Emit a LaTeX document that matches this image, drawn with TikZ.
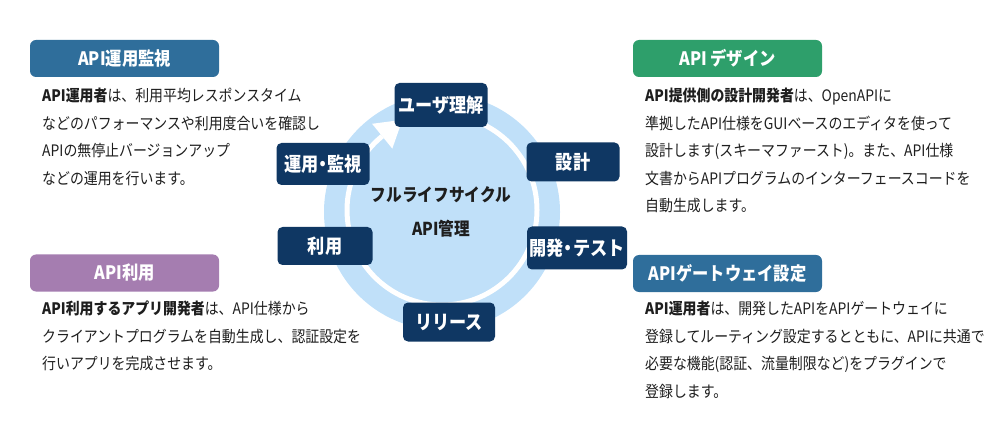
\documentclass[tikz,border=0pt]{standalone}
\usepackage{fontspec}
\setmainfont{Noto Sans CJK JP}[FakeStretch=0.88]

\definecolor{navy}{HTML}{0F3763}
\definecolor{ringblue}{HTML}{C0E0F9}
\definecolor{headblue}{HTML}{2F6E9B}
\definecolor{headgreen}{HTML}{2E9F6B}
\definecolor{headpurple}{HTML}{A57DB0}
\definecolor{bodytext}{HTML}{1E1E1E}

\tikzset{
  stage/.style={fill=navy, rounded corners=5pt, text=white, inner sep=0pt,
    font=\bfseries\fontsize{19.5}{19.5}\selectfont},
  headbox/.style={rounded corners=6pt, text=white, inner sep=0pt,
    minimum width=189pt, minimum height=37pt,
    font=\bfseries\fontsize{18.5}{18.5}\selectfont},
  desc/.style={anchor=north west, align=left, inner sep=0pt, text=bodytext,
    font=\fontsize{15.8}{27.5}\selectfont},
}

\begin{document}
\begin{tikzpicture}[x=1pt,y=-1pt]
  \useasboundingbox (0,0) rectangle (998,430);

  % cycle ring
  \fill[ringblue] (442,212) circle[radius=118];
  \draw[white, line width=5pt]
    (442,210) ++(-90:95) arc[start angle=-90, end angle=231, radius=95];
  % arrow head of the ring
  \fill[white] (372.1,123.8) -- (402.4,119.8) -- (392.3,148.6) -- cycle;

  \node[font=\bfseries\fontsize{17.8}{34}\selectfont, align=center, text=bodytext]
    (cycle) at (441,212) {フルライフサイクル\\API管理};

  % stages
  \node[stage, minimum width=93pt, minimum height=44pt] (user)    at (441,105) {ユーザ理解};
  \node[stage, minimum width=93pt, minimum height=39pt] (design)  at (573,162) {設計};
  \node[stage, minimum width=100pt, minimum height=43pt] (devtest) at (577,248) {開発{\kern-4pt}・{\kern-4pt}テスト};
  \node[stage, minimum width=92pt, minimum height=39pt] (release) at (449,322) {リリース};
  \node[stage, minimum width=95pt, minimum height=38pt] (usage)   at (325,246) {利用};
  \node[stage, minimum width=93pt, minimum height=42pt] (ops)     at (323,164) {運用{\kern-4pt}・{\kern-4pt}監視};

  % headings
  \node[headbox, fill=headblue]   (monhead)  at (124.5,58.5) {API運用監視};
  \node[headbox, fill=headgreen]  (deshead)  at (727.5,58.5) {API デザイン};
  \node[headbox, fill=headpurple] (usehead)  at (124.5,273)  {API利用};
  \node[headbox, fill=headblue]   (gatehead) at (727.5,273.5) {APIゲートウェイ設定};

  % descriptions
  \node[desc] (mondesc) at (42,88) {%
    {\bfseries API運用者}は、利用平均レスポンスタイム\\
    などのパフォーマンスや利用度合いを確認し\\
    APIの無停止バージョンアップ\\
    などの運用を行います。};
  \node[desc] (desdesc) at (645,88) {%
    {\bfseries API提供側の設計開発者}は、OpenAPIに\\
    準拠したAPI仕様をGUIベースのエディタを使って\\
    設計します(スキーマファースト)。また、API仕様\\
    文書からAPIプログラムのインターフェースコードを\\
    自動生成します。};
  \node[desc] (usedesc) at (42,301) {%
    {\bfseries API利用するアプリ開発者}は、API仕様から\\
    クライアントプログラムを自動生成し、認証設定を\\
    行いアプリを完成させます。};
  \node[desc] (gatedesc) at (645,301) {%
    {\bfseries API運用者}は、開発したAPIをAPIゲートウェイに\\
    登録してルーティング設定するとともに、APIに共通で\\
    必要な機能(認証、流量制限など)をプラグインで\\
    登録します。};
\end{tikzpicture}
\end{document}
